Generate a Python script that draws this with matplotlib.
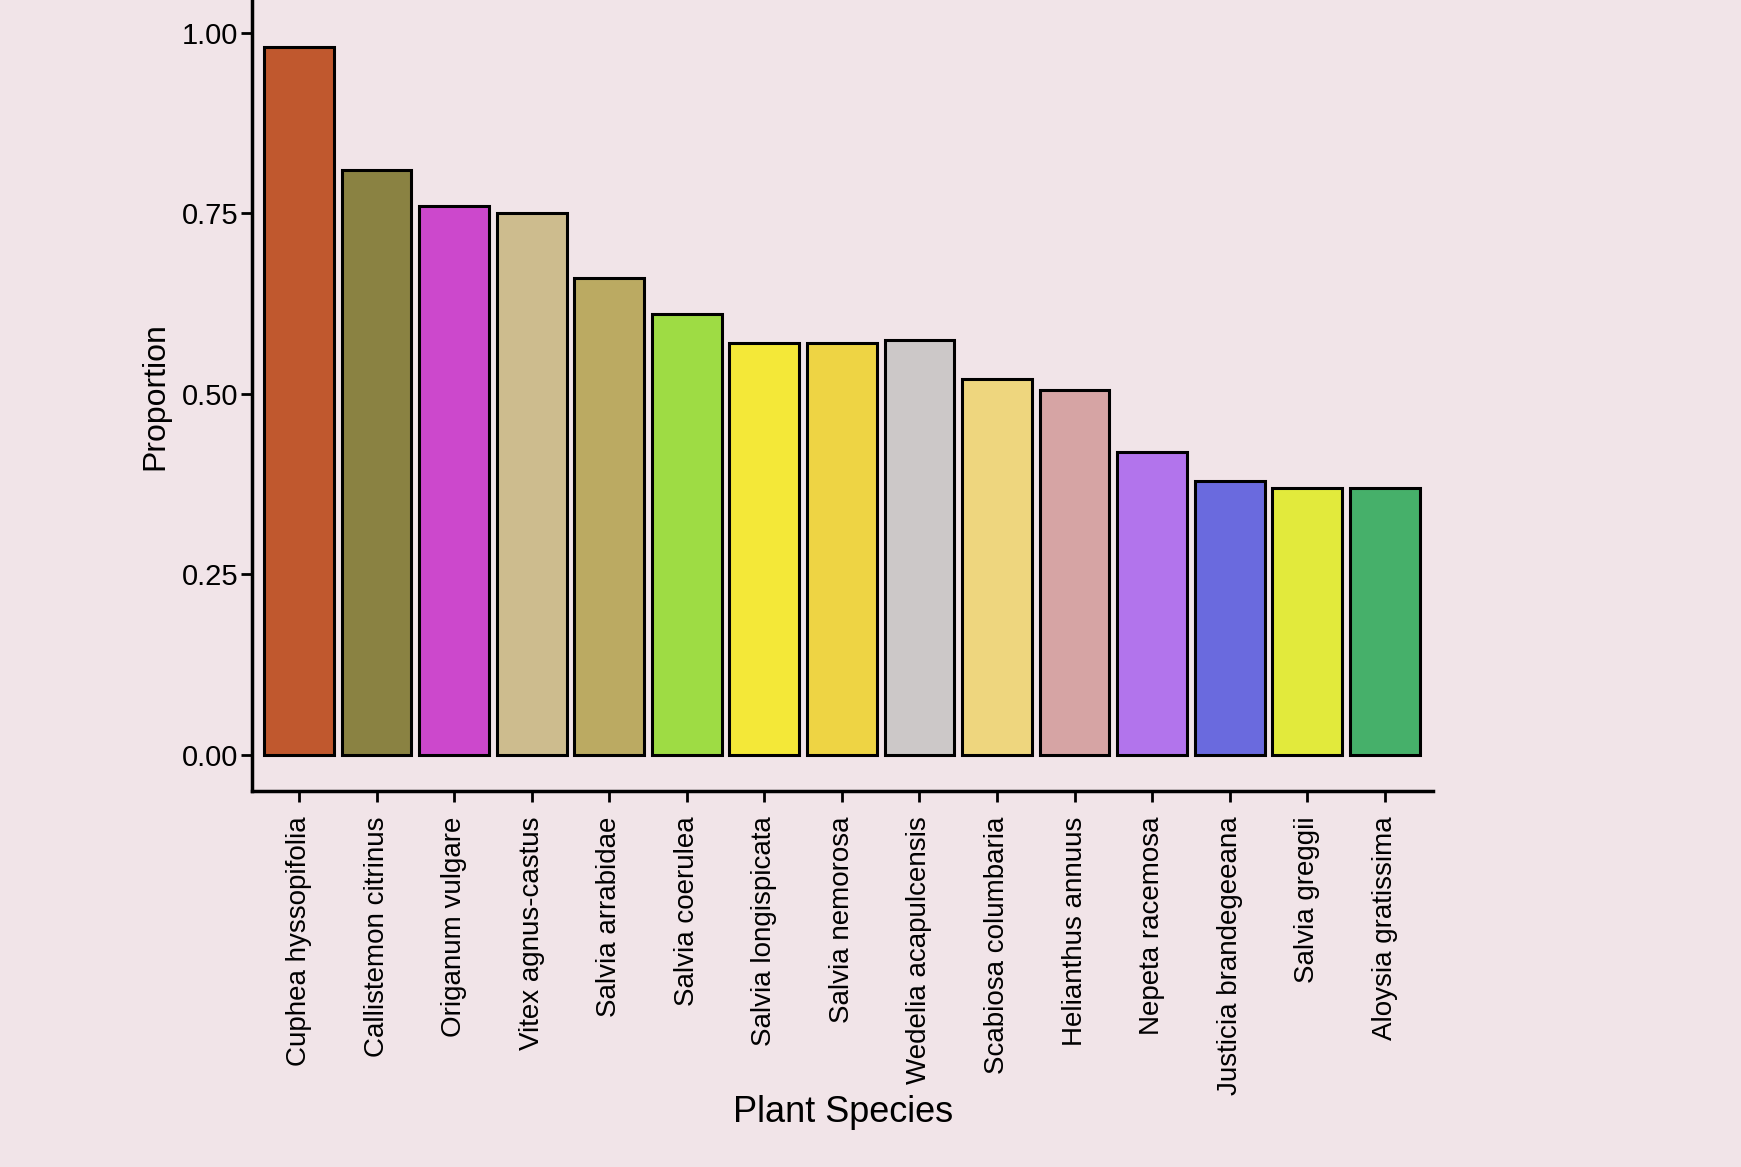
import matplotlib.pyplot as plt

# -----------------------------
# Data
# -----------------------------
species = [
    "Cuphea hyssopifolia", "Callistemon citrinus", "Origanum vulgare",
    "Vitex agnus-castus", "Salvia arrabidae", "Salvia coerulea",
    "Salvia longispicata", "Salvia nemorosa", "Wedelia acapulcensis",
    "Scabiosa columbaria", "Helianthus annuus", "Nepeta racemosa",
    "Justicia brandegeeana", "Salvia greggii", "Aloysia gratissima",
]
proportion = [0.98, 0.81, 0.76, 0.75, 0.66, 0.61, 0.57, 0.57, 0.575,
              0.52, 0.505, 0.42, 0.38, 0.37, 0.37]
bar_colors = [
    "#C0582E", "#8A8242", "#CC48CC", "#CDBC8E", "#BBAA62", "#9EDC44",
    "#F4E838", "#EED444", "#CCC8C8", "#EED67E", "#D6A4A4", "#B274EC",
    "#6A6ADE", "#E2EA3C", "#46B06A",
]

plt.rcParams["font.family"] = ["Liberation Sans", "DejaVu Sans"]

fig = plt.figure(figsize=(17.41, 11.67), dpi=100)
fig.patch.set_facecolor("#F1E4E8")
ax = fig.add_axes([0.145, 0.322, 0.678, 0.678])
ax.set_facecolor("#F1E4E8")

ax.bar(range(len(species)), proportion, width=0.9, color=bar_colors,
       edgecolor="black", linewidth=2.2)

ax.set_xlim(-0.6, 14.62)
ax.set_ylim(-0.05, 1.045)
ax.set_yticks([0, 0.25, 0.5, 0.75, 1.0])
ax.set_yticklabels(["0.00", "0.25", "0.50", "0.75", "1.00"])
ax.set_xticks(range(len(species)))
ax.set_xticklabels(species, rotation=90)

for side in ["top", "right"]:
    ax.spines[side].set_visible(False)
for side in ["left", "bottom"]:
    ax.spines[side].set_linewidth(2.5)

ax.tick_params(axis="both", direction="out", length=8, width=2,
               colors="black")
ax.tick_params(axis="x", pad=10, labelsize=20)
ax.tick_params(axis="y", pad=2, labelsize=21)

ax.set_ylabel("Proportion", fontsize=23, labelpad=8)
ax.set_xlabel("Plant Species", fontsize=26, labelpad=0)

plt.savefig("out.png", dpi=100, facecolor=fig.get_facecolor())
